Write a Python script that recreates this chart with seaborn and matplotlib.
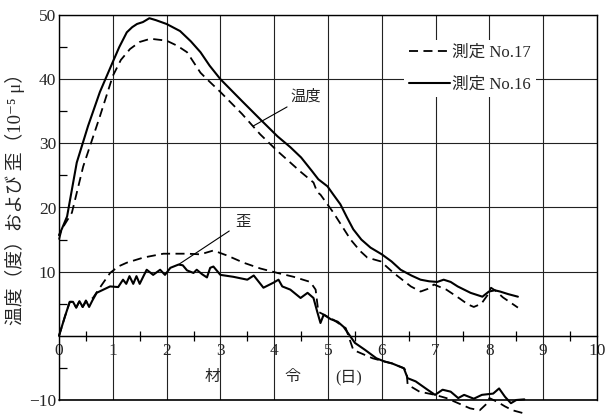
import matplotlib
matplotlib.use("Agg")
import matplotlib.pyplot as plt
import seaborn as sns
from matplotlib.ticker import MultipleLocator

# temperature curves (deg C) vs age (days)
temp16_x = [0, 0.05, 0.15, 0.33, 0.54, 0.76, 0.98, 1.12, 1.26, 1.36, 1.45, 1.56, 1.68, 1.8, 2.0,
            2.25, 2.45, 2.63, 2.8, 3.0, 3.4, 3.74, 4.06, 4.3, 4.5, 4.7, 4.82, 4.99, 5.1, 5.23,
            5.35, 5.47, 5.62, 5.79, 6.0, 6.18, 6.35, 6.55, 6.72, 6.88, 7.03, 7.15, 7.28,
            7.41, 7.65, 7.87, 7.99, 8.1, 8.2, 8.35, 8.53]
temp16_y = [15.7, 16.6, 18.6, 27.0, 32.7, 38.0, 42.3, 45.0, 47.3, 48.1, 48.6, 48.9, 49.5, 49.2, 48.6,
            47.5, 45.9, 44.2, 42.1, 40.0, 36.6, 33.75, 31.1, 29.4, 27.8, 25.7, 24.4, 23.3, 22.0, 20.5,
            18.5, 16.6, 15.0, 13.75, 12.7, 11.6, 10.3, 9.4, 8.75, 8.5, 8.4, 8.75, 8.4,
            7.7, 6.7, 6.1, 6.9, 7.1, 6.9, 6.5, 6.1]

temp17_x = [0, 0.05, 0.24, 0.45, 0.76, 1.0, 1.15, 1.32, 1.5, 1.7, 2.0, 2.2, 2.38, 2.63, 2.75,
            3.0, 3.4, 3.74, 4.06, 4.5, 4.73, 4.8, 4.86, 5.1, 5.42, 5.6, 5.73, 5.98, 6.22,
            6.54, 6.72, 6.85, 6.97, 7.2, 7.45, 7.6, 7.71, 7.85, 7.97, 8.03, 8.12, 8.25, 8.53]
temp17_y = [15.0, 16.6, 19.2, 26.4, 34.2, 40.5, 43.0, 44.7, 45.8, 46.3, 46.0, 45.2, 44.2, 41.0, 40.0,
            38.0, 34.6, 31.4, 28.8, 25.5, 23.9, 22.4, 22.0, 19.2, 15.0, 13.2, 12.2, 11.6, 9.8,
            7.7, 6.9, 7.3, 8.0, 7.2, 5.8, 4.9, 4.5, 5.0, 6.4, 7.5, 7.0, 6.0, 4.4]

# strain curves (10^-5)
strain16_x = [0, 0.11, 0.2, 0.26, 0.32, 0.38, 0.44, 0.5, 0.56, 0.62, 0.7, 0.95, 1.1, 1.19, 1.25,
              1.31, 1.38, 1.44, 1.5, 1.57, 1.63, 1.75, 1.88, 1.97, 2.07, 2.22, 2.3, 2.38, 2.5,
              2.56, 2.66, 2.75, 2.81, 2.87, 2.93, 3.0, 3.24, 3.5, 3.62, 3.8, 3.99, 4.08, 4.15,
              4.3, 4.49, 4.62, 4.73, 4.8, 4.86, 4.92, 5.05, 5.18, 5.29, 5.5, 5.69, 5.9, 6.05,
              6.19, 6.41, 6.48, 6.63, 6.85, 6.99, 7.13, 7.28, 7.42, 7.53, 7.71, 7.86, 8.07,
              8.18, 8.29, 8.4, 8.5, 8.65]
strain16_y = [0, 3.0, 5.3, 5.3, 4.4, 5.4, 4.5, 5.5, 4.5, 5.5, 6.7, 7.7, 7.6, 8.75, 8.1,
              9.3, 8.1, 9.3, 8.1, 9.3, 10.3, 9.5, 10.3, 9.5, 10.6, 11.1, 11.0, 10.2, 9.8,
              10.3, 9.6, 9.1, 10.6, 10.8, 10.2, 9.5, 9.2, 8.75, 9.4, 7.5, 8.3, 8.75, 7.7,
              7.2, 5.9, 6.7, 5.9, 3.75, 2.0, 3.3, 2.6, 2.2, 1.4, -1.1, -2.2, -3.5, -4.0,
              -4.3, -5.05, -6.6, -7.1, -8.4, -9.2, -8.4, -8.7, -9.7, -9.2, -9.8, -9.2, -9.0,
              -8.2, -9.5, -10.5, -10.0, -9.9]

strain17_x = [0, 0.11, 0.2, 0.26, 0.32, 0.38, 0.44, 0.5, 0.63, 0.8, 0.95, 1.1, 1.26, 1.57, 1.94,
              2.38, 2.63, 2.87, 3.13, 3.43, 3.74, 4.06, 4.36, 4.67, 4.77, 4.82, 4.99, 5.1, 5.33,
              5.47, 5.83, 6.05, 6.19, 6.41, 6.46, 6.48, 6.7, 6.99, 7.2, 7.42, 7.64, 7.82,
              7.96, 8.0, 8.15, 8.29, 8.43, 8.65]
strain17_y = [0, 3.0, 5.3, 5.3, 4.4, 5.4, 4.5, 5.3, 5.9, 8.0, 9.8, 10.8, 11.4, 12.2, 12.8,
              12.8, 12.7, 13.3, 12.5, 11.4, 10.5, 9.8, 9.2, 8.4, 7.2, 3.75, 3.0, 2.5, 1.2,
              -2.2, -3.5, -4.0, -4.3, -5.05, -5.5, -7.6, -8.7, -9.2, -9.7, -10.5, -11.3, -11.6,
              -10.5, -9.7, -10.3, -11.0, -11.6, -12.1]

x_major = list(range(0, 11))
y_major = [-10, 0, 10, 20, 30, 40, 50]
y_labels = ["−10", "", "10", "20", "30", "40", "50"]

# x-axis title pieces and their day positions
xlabel_parts = ['材', '令', '(日)']
xlabel_pos = [2.85, 4.34, 5.38]

sns.set_theme(style="white")
plt.rcParams['font.family'] = ['Liberation Serif', 'Noto Sans CJK JP', 'DejaVu Sans']

fig = plt.figure(figsize=(6.11, 4.15), dpi=100)
ax = fig.add_axes([59 / 611, 15 / 415, 538 / 611, 385 / 415])

dash = (0, (5, 3))
lw = 1.3
sns.lineplot(x=temp17_x, y=temp17_y, ax=ax, color='black', lw=lw, linestyle=dash,
             sort=False, estimator=None, label='測定 No.17', clip_on=False)
sns.lineplot(x=temp16_x, y=temp16_y, ax=ax, color='black', lw=lw + 0.2,
             sort=False, estimator=None, label='測定 No.16', clip_on=False)
sns.lineplot(x=strain17_x, y=strain17_y, ax=ax, color='black', lw=lw, linestyle=dash,
             sort=False, estimator=None, clip_on=False)
sns.lineplot(x=strain16_x, y=strain16_y, ax=ax, color='black', lw=lw + 0.2,
             sort=False, estimator=None, clip_on=False)

ax.set_xlim(0, 10)
ax.set_ylim(-10, 50)
ax.set_xticks(x_major)
ax.set_xticklabels([str(v) for v in x_major])
ax.set_yticks(y_major)
ax.set_yticklabels(y_labels)
ax.xaxis.set_minor_locator(MultipleLocator(0.5))
ax.yaxis.set_minor_locator(MultipleLocator(5))

ax.grid(True, which='major', color='#222222', lw=0.8)
for s in ax.spines.values():
    s.set_color('black')
    s.set_linewidth(1.0)
ax.spines['bottom'].set_position(('data', 0))
ax.axhline(-10, color='black', lw=1.2, clip_on=False)

ax.tick_params(axis='x', which='major', length=0, pad=5, labelsize=12.5)
ax.tick_params(axis='x', which='minor', direction='inout', length=7, width=0.9, color='black')
ax.tick_params(axis='y', which='major', length=0, pad=2, labelsize=12.5)
ax.tick_params(axis='y', which='minor', direction='in', length=6, width=0.9, color='black', left=True)
ax.tick_params(axis='x', which='both', bottom=True)

ax.set_xlabel('')
for part, pos in zip(xlabel_parts, xlabel_pos):
    ax.text(pos, -6.4, part, ha='center', va='center', fontsize=11.5)
ax.set_ylabel('温度（度）および 歪（10⁻⁵ μ）', fontsize=13.5, labelpad=6)
ax.yaxis.set_label_coords(-0.064, 0.535)

ax.annotate('温度', xy=(3.61, 32.7), xytext=(4.3, 37.3), ha='left', va='center', fontsize=11,
            arrowprops=dict(arrowstyle='-', lw=0.8, color='black', shrinkA=0, shrinkB=0))
ax.annotate('歪', xy=(2.22, 11.1), xytext=(3.41, 17.7), ha='center', va='center', fontsize=11,
            arrowprops=dict(arrowstyle='-', lw=0.8, color='black', shrinkA=2, shrinkB=0))

leg = ax.legend(loc='upper left', bbox_to_anchor=(0.625, 0.958), frameon=True, facecolor='white',
                edgecolor='none', framealpha=1, fontsize=12, handlelength=2.5,
                handletextpad=0.1, labelspacing=0.95, borderpad=0.3)

fig.savefig('out.png', dpi=100)
